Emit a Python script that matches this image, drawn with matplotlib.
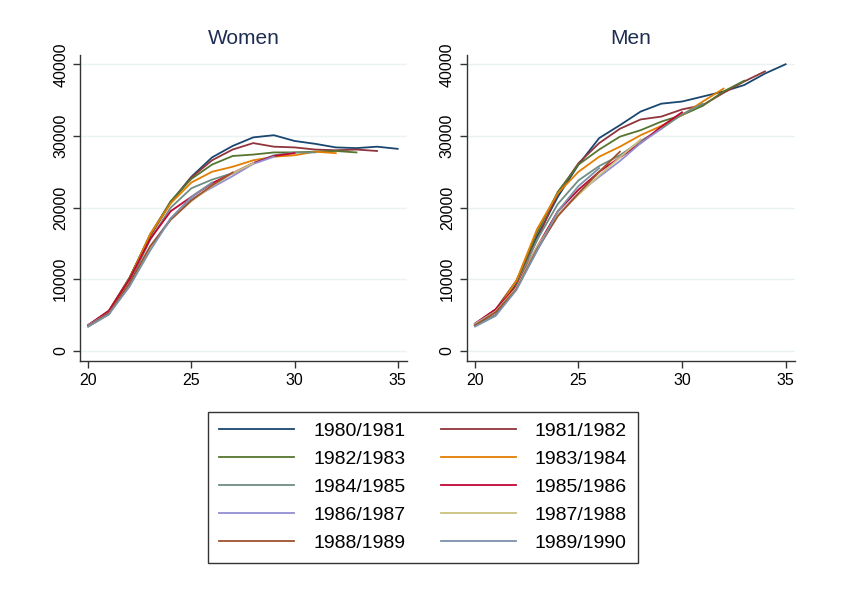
import numpy as np
import matplotlib
matplotlib.use("Agg")
import matplotlib.pyplot as plt

plt.rcParams['font.family'] = ['Liberation Sans', 'DejaVu Sans']

cohorts = ["1980/1981", "1981/1982", "1982/1983", "1983/1984", "1984/1985",
           "1985/1986", "1986/1987", "1987/1988", "1988/1989", "1989/1990"]
colors = ["#1a476f", "#90353b", "#55752f", "#e37e00", "#6e8e84",
          "#c10534", "#938dd2", "#cac27e", "#a0522d", "#7b92a8"]

# earnings by age (ages start at 20), one list per cohort
women = [
    [3600, 5500, 10100, 16200, 20800, 24300, 27000, 28600, 29800, 30100, 29300, 28900, 28400, 28300, 28500, 28200],
    [3600, 5600, 10200, 16000, 20700, 24200, 26600, 28100, 29000, 28500, 28400, 28100, 28000, 28100, 27900],
    [3500, 5500, 10200, 16200, 20900, 24000, 26000, 27200, 27400, 27700, 27700, 27800, 27900, 27700],
    [3500, 5500, 10000, 16300, 20600, 23500, 25000, 25700, 26600, 27100, 27300, 27800, 27600],
    [3400, 5100, 9500, 15500, 20000, 22700, 23900, 24800, 26200, 27300, 27700, 27700],
    [3600, 5600, 10000, 15600, 19500, 21500, 23400, 24800, 26200, 27200, 27600],
    [3600, 5300, 9000, 14500, 18500, 21200, 22800, 24400, 26100, 27100],
    [3500, 5200, 9200, 14300, 18400, 20900, 23000, 24800, 26200],
    [3500, 5300, 9400, 14600, 18300, 21000, 23100, 24900],
    [3400, 5100, 9000, 14000, 18500, 21500, 23500],
]
men = [
    [3500, 5000, 9500, 16000, 21500, 26000, 29700, 31500, 33400, 34500, 34800, 35500, 36200, 37100, 38700, 40000],
    [3800, 5800, 9800, 15500, 22000, 26200, 29000, 31000, 32300, 32700, 33700, 34300, 36000, 37600, 39000],
    [3700, 5600, 9700, 16500, 22200, 26000, 28100, 29900, 30800, 32000, 32900, 34200, 36200, 37700],
    [3700, 5400, 9800, 17000, 22000, 25000, 27100, 28500, 30100, 31400, 32900, 34800, 36600],
    [3500, 5000, 9000, 15500, 20500, 23800, 25800, 27300, 29300, 31000, 33000, 34500],
    [3800, 5800, 9000, 14500, 19500, 22500, 25000, 27000, 29000, 31300, 33300],
    [3800, 5500, 8700, 14000, 19000, 22000, 24300, 26500, 29000, 31000],
    [3700, 5500, 8800, 14500, 19000, 21800, 24500, 27000, 29500],
    [3600, 5400, 8600, 14200, 18800, 22000, 25000, 27800],
    [3400, 4900, 8500, 14000, 19500, 23000, 25500],
]

fig = plt.figure(figsize=(8.48, 5.94), dpi=100)
ax1 = fig.add_axes([0.0943, 0.3923, 0.3856, 0.5152])
ax2 = fig.add_axes([0.5503, 0.3923, 0.3871, 0.5152])

handles = []
for ax, data, title in [(ax1, women, "Women"), (ax2, men, "Men")]:
    for i, vals in enumerate(data):
        ages = np.arange(20, 20 + len(vals))
        ln, = ax.plot(ages, vals, color=colors[i], lw=1.3, label=cohorts[i])
        if ax is ax1:
            handles.append(ln)
    ax.set_xlim(19.6, 35.45)
    ax.set_ylim(-1400, 41300)
    ax.set_xticks([20, 25, 30, 35])
    ax.set_yticks([0, 10000, 20000, 30000, 40000])
    ax.set_yticklabels(["0", "10000", "20000", "30000", "40000"], rotation=90, va="center")
    ax.grid(axis="y", color="#eaf2f3", lw=1.0)
    ax.set_axisbelow(True)
    for s in ["top", "right"]:
        ax.spines[s].set_visible(False)
    for s in ["left", "bottom"]:
        ax.spines[s].set_color("#333333")
        ax.spines[s].set_linewidth(1.0)
    ax.tick_params(colors="#333333", labelcolor="black", labelsize=11.5, length=5, width=1.0)
    ax.set_title(title, fontsize=15, color="#1e2d53", pad=8)

order = [0, 2, 4, 6, 8, 1, 3, 5, 7, 9]
leg = fig.legend([handles[k] for k in order], [cohorts[k] for k in order],
                 ncol=2, loc="upper center", bbox_to_anchor=(0.499, 0.3064),
                 borderaxespad=0, fontsize=14, handlelength=3.85, handletextpad=1.0,
                 columnspacing=1.8, labelspacing=0.53, borderpad=0.55,
                 fancybox=False, frameon=True)
leg.get_frame().set_edgecolor("black")
leg.get_frame().set_linewidth(1.0)

fig.savefig("out.png", dpi=100)
